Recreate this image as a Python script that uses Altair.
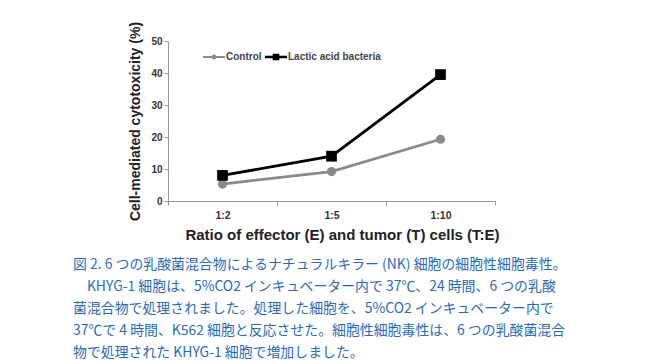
import altair as alt
import pandas as pd

ratios = ["1:2", "1:5", "1:10"]
control = [5.3, 9.2, 19.3]
lab = [8.0, 14.0, 39.5]
series_names = ["Control", "Lactic acid bacteria"]
y_ticks = [0, 10, 20, 30, 40, 50]
caption = [
    "図 2. 6 つの乳酸菌混合物によるナチュラルキラー (NK) 細胞の細胞性細胞毒性。",
    "\u200b\u3000KHYG-1 細胞は、5%CO2 インキュベーター内で 37℃、24 時間、6 つの乳酸",
    "菌混合物で処理されました。処理した細胞を、5%CO2 インキュベーター内で",
    "37℃で 4 時間、K562 細胞と反応させた。細胞性細胞毒性は、6 つの乳酸菌混合",
    "物で処理された KHYG-1 細胞で増加しました。",
]

rows = []
for r, c in zip(ratios, control):
    rows.append({"ratio": r, "value": c, "series": series_names[0]})
for r, v in zip(ratios, lab):
    rows.append({"ratio": r, "value": v, "series": series_names[1]})
df = pd.DataFrame(rows)

colors = ["#8a8a8a", "#000000"]
color_scale = alt.Scale(domain=series_names, range=colors)
sans = "Liberation Sans"

x_enc = alt.X(
    "ratio:N",
    sort=ratios,
    scale=alt.Scale(paddingInner=0, paddingOuter=0),
    axis=alt.Axis(
        title="Ratio of effector (E) and tumor (T) cells (T:E)",
        labelAngle=0,
        tickBand="extent",
        labelFont=sans, labelFontSize=10.5, labelFontWeight="bold", labelColor="#333",
        labelPadding=5, tickSize=4, tickColor="#999", domainColor="#999",
        titleFont=sans, titleFontSize=15, titleFontWeight="bold", titleColor="#222",
        titlePadding=7, titleX=174, titleAlign="center",
    ),
)
y_enc = alt.Y(
    "value:Q",
    scale=alt.Scale(domain=[0, 50], nice=False),
    axis=alt.Axis(
        title="Cell-mediated cytotoxicity (%)",
        values=y_ticks, grid=False,
        labelFont=sans, labelFontSize=10, labelFontWeight="bold", labelColor="#333",
        labelPadding=2, tickSize=4, tickColor="#999", domainColor="#999",
        titleFont=sans, titleFontSize=14, titleFontWeight="bold", titleColor="#222",
        titlePadding=8,
    ),
)

base = alt.Chart(df)

legend_shapes = [
    "M-1,-0.1H1V0.1H-1Z M0.22,0A0.22,0.22,0,1,1,-0.22,0A0.22,0.22,0,1,1,0.22,0Z",
    "M-1,-0.12H1V0.12H-1Z M-0.3,-0.3H0.3V0.3H-0.3Z",
]
legend_layer = base.mark_point(filled=True, size=0, opacity=1).encode(
    x=x_enc, y=y_enc,
    color=alt.Color(
        "series:N", scale=color_scale,
        legend=alt.Legend(
            title=None, orient="none", legendX=35, legendY=5, direction="horizontal",
            symbolSize=484, symbolOpacity=1, symbolStrokeWidth=0,
            labelFont=sans, labelFontSize=10, labelFontWeight="bold", labelColor="#444",
            labelOffset=1, columnPadding=3,
        ),
    ),
    shape=alt.Shape("series:N", scale=alt.Scale(domain=series_names, range=legend_shapes)),
)

lines = base.mark_line(strokeWidth=2.8).encode(
    x=x_enc, y=y_enc,
    color=alt.Color("series:N", scale=color_scale, legend=None),
)

pts_control = base.transform_filter(alt.datum.series == series_names[0]).mark_point(
    shape="circle", filled=True, size=85, opacity=1
).encode(x=x_enc, y=y_enc, color=alt.Color("series:N", scale=color_scale, legend=None))

pts_lab = base.transform_filter(alt.datum.series == series_names[1]).mark_point(
    shape="square", filled=True, size=115, opacity=1
).encode(x=x_enc, y=y_enc, color=alt.Color("series:N", scale=color_scale, legend=None))

chart = (
    alt.layer(legend_layer, lines, pts_control, pts_lab)
    .properties(
        width=327, height=160,
        padding={"left": 160, "top": 33, "right": 150, "bottom": 160},
        autosize=alt.AutoSizeParams(type="none"),
        title=alt.TitleParams(
            text=caption, orient="bottom", anchor="start", frame="group", dx=-95,
            offset=15, font="Noto Sans CJK JP", fontSize=13.9, fontWeight="normal",
            color="#2a6bb8", lineHeight=22,
        ),
    )
    .configure_view(stroke=None)
)

chart.save("out.html", embed_options={"renderer": "svg", "actions": False})
